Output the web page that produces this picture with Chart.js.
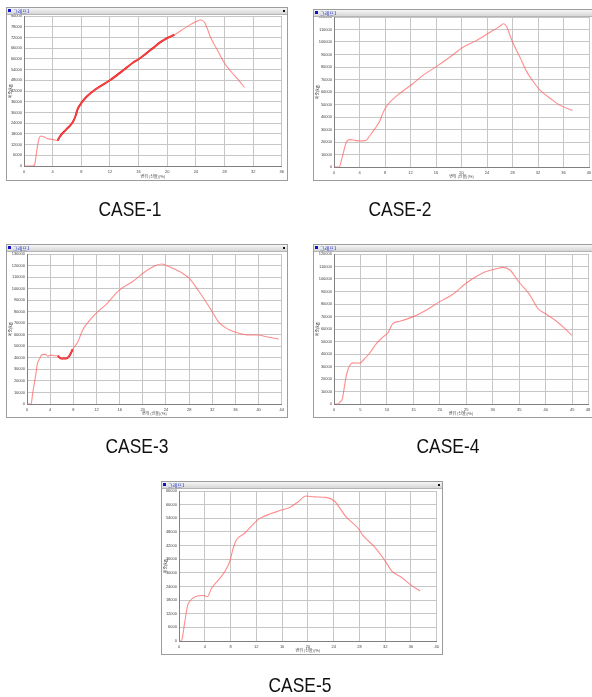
<!DOCTYPE html>
<html>
<head>
<meta charset="utf-8">
<script src="https://cdn.jsdelivr.net/npm/chart.js@4"></script>
<style>
  html, body { margin: 0; padding: 0; background: #fff; }
  body { width: 592px; height: 697px; position: relative; overflow: hidden; }
  canvas.plot { position: absolute; }
  .win { position: absolute; box-sizing: border-box; border: 1px solid #9c9c9c; pointer-events: none; }
  .bar { position: absolute; left: 0; right: 0; top: 0; height: 6px;
         background: linear-gradient(#f6f6f6, #d6d6d6); border-bottom: 1px solid #b4b4b4; }
  .ico { position: absolute; left: 1px; top: 1px; width: 3px; height: 3px; background: #1010d0; }
  .btxt { position: absolute; left: 6px; top: 0; font: 5px/6px "Noto Sans CJK KR", sans-serif; color: #2030c0; }
  .knob { position: absolute; right: 2px; top: 2px; width: 2px; height: 2px; background: #111; }
  .cap { position: absolute; font: 21px/1 "Liberation Sans", Arial, sans-serif; color: #111;
         white-space: nowrap; transform: translate(-50%, -50%) scaleX(0.83); }
</style>
</head>
<body>
<script>
// Load (kg) versus displacement (elongation %) for each test case
const caseNames = ['CASE-1', 'CASE-2', 'CASE-3', 'CASE-4', 'CASE-5'];

const case1Strain = [0, 1.2, 1.5, 1.8, 2.1, 2.4, 2.8, 3.2, 4.0, 4.7, 5.0, 5.9, 6.8, 7.2, 7.5, 8.0, 8.7, 10.0, 12.0, 14.0, 15.2, 16.0, 17.0, 18.0, 19.0, 20.0, 21.0, 22.0, 23.0, 24.0, 24.7, 25.2, 25.6, 26.0, 27.0, 28.0, 29.0, 30.0, 30.8];
const case1Load = [0, 0, 1000, 9000, 15500, 16800, 16300, 15400, 14900, 14200, 16400, 20500, 24500, 28000, 32000, 35200, 38600, 43000, 48000, 54000, 57800, 59800, 62800, 66000, 69200, 71600, 73500, 76000, 78600, 80800, 81800, 80500, 77000, 72500, 65000, 57500, 52500, 48000, 44000];
const case1Bold = [4.7, 21.0];
const case1XTicks = [0, 4, 8, 12, 16, 20, 24, 28, 32, 36];
const case1YTicks = [0, 6000, 12000, 18000, 24000, 30000, 36000, 42000, 48000, 54000, 60000, 66000, 72000, 78000, 84000];

const case2Strain = [0, 0.8, 1.15, 1.7, 2.0, 2.5, 3.3, 4.0, 5.0, 5.6, 6.4, 7.2, 7.7, 8.3, 9.3, 10.3, 12.2, 14.0, 16.1, 18.2, 20.3, 22.1, 24.2, 26.0, 26.6, 27.2, 27.7, 28.1, 29.2, 30.2, 31.3, 32.3, 33.9, 35.4, 37.4];
const case2Load = [0, 0, 5000, 16000, 20500, 21900, 21300, 20800, 21200, 25000, 30500, 37000, 43500, 49000, 54500, 58800, 66000, 73500, 80500, 88000, 96000, 100500, 107000, 112500, 114600, 111000, 104000, 99000, 87500, 76500, 68000, 61500, 55000, 49500, 45300];
const case2Bold = null;
const case2XTicks = [0, 4, 8, 12, 16, 20, 24, 28, 32, 36, 40];
const case2YTicks = [0, 10000, 20000, 30000, 40000, 50000, 60000, 70000, 80000, 90000, 100000, 110000, 120000];

const case3Strain = [0, 0.7, 1.0, 1.5, 1.8, 2.2, 2.6, 3.2, 3.6, 4.2, 4.8, 5.3, 5.9, 6.7, 7.3, 7.9, 8.8, 9.6, 10.5, 11.9, 13.6, 15.9, 18.2, 20.5, 22.2, 23.3, 24.5, 26.8, 28.0, 29.7, 32.0, 33.1, 34.8, 36.6, 38.3, 40.0, 41.1, 43.5];
const case3Load = [0, 0, 10000, 25000, 35000, 39500, 42800, 43000, 41500, 42400, 41800, 41800, 39500, 39500, 41500, 47500, 54000, 64000, 70500, 78500, 86000, 98500, 106000, 115000, 120000, 121300, 119200, 113500, 109000, 97500, 80000, 71000, 64500, 61300, 59800, 59800, 58500, 56300];
const case3Bold = [5.3, 7.9];
const case3XTicks = [0, 4, 8, 12, 16, 20, 24, 28, 32, 36, 40, 44];
const case3YTicks = [0, 10000, 20000, 30000, 40000, 50000, 60000, 70000, 80000, 90000, 100000, 110000, 120000, 130000];

const case4Strain = [0, 0.8, 1.1, 1.6, 2.1, 2.4, 3.0, 3.6, 4.9, 5.5, 6.8, 8.0, 9.3, 10.2, 10.6, 11.1, 12.4, 14.9, 17.4, 19.9, 22.4, 24.9, 26.8, 28.6, 30.5, 32.0, 33.3, 34.9, 36.8, 37.4, 38.6, 39.9, 41.8, 43.6, 44.9];
const case4Load = [0, 0, 1500, 4500, 17500, 24000, 31000, 32900, 32700, 35000, 41000, 48300, 53700, 57000, 60300, 64300, 66200, 69700, 75000, 81700, 87600, 96400, 101800, 105800, 108000, 109300, 107000, 97800, 88500, 84500, 76000, 72400, 67000, 60500, 55000];
const case4Bold = null;
const case4XTicks = [0, 5, 10, 15, 20, 25, 30, 35, 40, 45, 48];
const case4YTicks = [0, 10000, 20000, 30000, 40000, 50000, 60000, 70000, 80000, 90000, 100000, 110000, 120000];

const case5Strain = [0, 0.3, 0.5, 0.9, 1.35, 1.7, 2.5, 3.8, 4.4, 5.05, 6.1, 7.1, 7.9, 8.4, 8.9, 10.2, 12.3, 14.3, 15.9, 17.4, 18.5, 19.7, 21.0, 22.8, 24.1, 25.9, 27.8, 28.5, 30.3, 31.9, 33.1, 34.4, 36.0, 37.4];
const case5Load = [0, 0, 1200, 8500, 15800, 17600, 19500, 20000, 19500, 23200, 26800, 30500, 35200, 40800, 44400, 47400, 53500, 56100, 57600, 59100, 61300, 63800, 63400, 63200, 61600, 54700, 49600, 46600, 41500, 35600, 30500, 28300, 24600, 22000];
const case5Bold = null;
const case5XTicks = [0, 4, 8, 12, 16, 20, 24, 28, 32, 36, 40];
const case5YTicks = [0, 6000, 12000, 18000, 24000, 30000, 36000, 42000, 48000, 54000, 60000, 66000];

const xTitle = '변위 (신율)(%)';
const yTitle = '하중(kg)';
const winTitle = '그래프1';

// Window frames [left, top, width, height], plot areas [left, top, right, bottom], caption centres
const panels = [
  { strain: case1Strain, load: case1Load, bold: case1Bold, xt: case1XTicks, yt: case1YTicks,
    frame: [6, 7, 282, 174], plot: [24, 16, 283, 166], cap: [130, 208] },
  { strain: case2Strain, load: case2Load, bold: case2Bold, xt: case2XTicks, yt: case2YTicks,
    frame: [313, 9, 284, 172], plot: [334, 17, 589, 167], cap: [400, 208] },
  { strain: case3Strain, load: case3Load, bold: case3Bold, xt: case3XTicks, yt: case3YTicks,
    frame: [6, 244, 282, 174], plot: [27, 254, 283, 404], cap: [137, 445] },
  { strain: case4Strain, load: case4Load, bold: case4Bold, xt: case4XTicks, yt: case4YTicks,
    frame: [313, 244, 284, 174], plot: [334, 254, 588, 404], cap: [448, 445] },
  { strain: case5Strain, load: case5Load, bold: case5Bold, xt: case5XTicks, yt: case5YTicks,
    frame: [161, 481, 282, 174], plot: [179, 491, 438, 641], cap: [300, 684] }
];

const tickFont = { family: 'Liberation Sans', size: 4 };
const gridColor = '#c6c6c6';
const edgeColor = '#808080';

function el(tag, cls, parent) {
  const e = document.createElement(tag);
  if (cls) e.className = cls;
  (parent || document.body).appendChild(e);
  return e;
}

panels.forEach((p, i) => {
  const [fx, fy, fw, fh] = p.frame;
  const [pl, pt, pr, pb] = p.plot;
  const cl = fx + 1, ct = fy + 1;
  const cw = fw - 2, ch = fh - 2;

  const cv = el('canvas', 'plot');
  cv.width = cw; cv.height = ch;
  cv.style.left = cl + 'px'; cv.style.top = ct + 'px';

  const pts = p.strain.map((x, k) => ({ x: x, y: p.load[k] }));
  const datasets = [{
    data: pts, borderColor: 'rgba(255,95,95,0.72)', borderWidth: 1.1,
    pointRadius: 0, cubicInterpolationMode: 'monotone', fill: false
  }];
  if (p.bold) {
    datasets.push({
      data: pts.filter(d => d.x >= p.bold[0] && d.x <= p.bold[1]),
      borderColor: '#e41010', borderWidth: 2, pointRadius: 0,
      cubicInterpolationMode: 'monotone', fill: false
    });
  }

  const xs = p.xt, ys = p.yt;
  new Chart(cv, {
    type: 'line',
    data: { datasets: datasets },
    options: {
      responsive: false, animation: false, devicePixelRatio: 1,
      layout: { padding: { left: 0, top: pt - ct, right: (cl + cw) - pr, bottom: 0 } },
      plugins: { legend: { display: false }, tooltip: { enabled: false } },
      scales: {
        x: {
          type: 'linear', min: xs[0], max: xs[xs.length - 1],
          afterBuildTicks: s => { s.ticks = xs.map(v => ({ value: v })); },
          afterFit: s => { s.height = (ct + ch) - pb; },
          ticks: { font: tickFont, color: '#444', padding: 3, maxRotation: 0, autoSkip: false,
                   callback: v => String(v) },
          grid: { color: gridColor, lineWidth: 1, drawTicks: false },
          border: { color: edgeColor },
          title: { display: true, text: xTitle, font: { family: 'Noto Sans CJK KR', size: 4 },
                   color: '#444', padding: { top: 0, bottom: 1 } }
        },
        y: {
          type: 'linear', min: ys[0], max: ys[ys.length - 1],
          afterBuildTicks: s => { s.ticks = ys.map(v => ({ value: v })); },
          afterFit: s => { s.width = pl - cl; },
          ticks: { font: tickFont, color: '#444', padding: 2, autoSkip: false,
                   callback: v => String(v) },
          grid: { color: gridColor, lineWidth: 1, drawTicks: false },
          border: { color: edgeColor },
          title: { display: true, text: yTitle, font: { family: 'Noto Sans CJK KR', size: 4 },
                   color: '#444', padding: { top: 1, bottom: 0 } }
        }
      }
    }
  });

  // window frame with its title bar
  const w = el('div', 'win');
  w.style.left = fx + 'px'; w.style.top = fy + 'px';
  w.style.width = fw + 'px'; w.style.height = fh + 'px';
  const bar = el('div', 'bar', w);
  el('div', 'ico', bar);
  el('div', 'btxt', bar).textContent = winTitle;
  el('div', 'knob', bar);

  const c = el('div', 'cap');
  c.style.left = p.cap[0] + 'px'; c.style.top = p.cap[1] + 'px';
  c.textContent = caseNames[i];
});
</script>
</body>
</html>
